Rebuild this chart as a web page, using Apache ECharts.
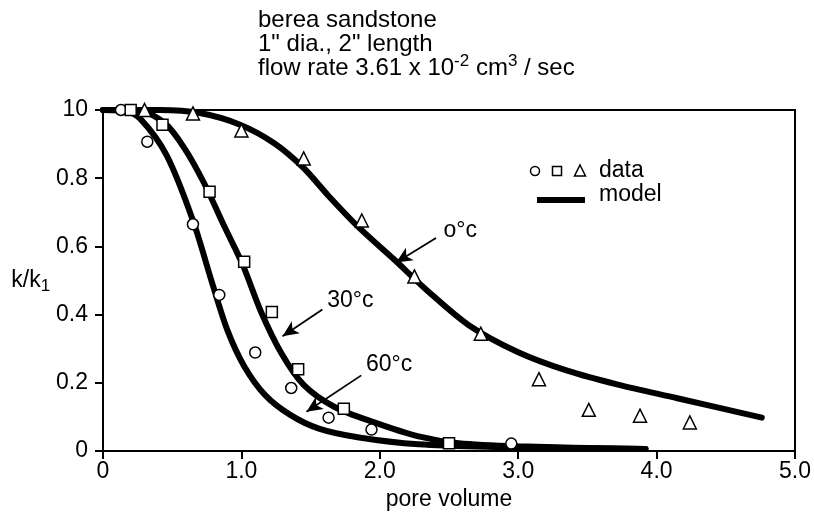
<!DOCTYPE html>
<html>
<head>
<meta charset="utf-8">
<script src="https://cdn.jsdelivr.net/npm/echarts@6/dist/echarts.min.js"></script>
<style>
  html, body { margin: 0; padding: 0; background: #fff; }
  #chart { width: 814px; height: 516px; }
</style>
</head>
<body>
<div id="chart"></div>
<script>
// measured points (pore volume, k/k1)
const circleX = [0.13, 0.32, 0.65, 0.84, 1.10, 1.36, 1.63, 1.94, 2.95];
const circleY = [1.0, 0.907, 0.665, 0.458, 0.289, 0.185, 0.098, 0.063, 0.022];
const squareX = [0.2, 0.43, 0.77, 1.02, 1.22, 1.41, 1.74, 2.5];
const squareY = [1.0, 0.957, 0.76, 0.555, 0.408, 0.24, 0.124, 0.023];
const triX = [0.3, 0.65, 1.0, 1.45, 1.87, 2.25, 2.73, 3.15, 3.51, 3.88, 4.24];
const triY = [1.0, 0.99, 0.94, 0.858, 0.676, 0.512, 0.344, 0.211, 0.121, 0.104, 0.084];

// model curves
const model0X = [0, 0.41, 0.70, 0.99, 1.24, 1.45, 1.63, 1.85, 2.10, 2.35, 2.64, 3.0, 3.36, 3.72, 4.15, 4.76];
const model0Y = [1.0, 1.0, 0.991, 0.957, 0.902, 0.83, 0.748, 0.655, 0.563, 0.468, 0.37, 0.29, 0.235, 0.195, 0.155, 0.098];
const model30X = [0, 0.27, 0.45, 0.59, 0.73, 0.88, 1.01, 1.14, 1.29, 1.45, 1.67, 1.96, 2.28, 2.57, 3.0, 3.92];
const model30Y = [1.0, 0.997, 0.96, 0.887, 0.786, 0.656, 0.546, 0.41, 0.286, 0.194, 0.13, 0.084, 0.043, 0.023, 0.014, 0.006];
const model60X = [0, 0.16, 0.27, 0.46, 0.65, 0.79, 0.90, 1.02, 1.17, 1.35, 1.56, 1.85, 2.28, 2.86, 3.43, 3.92];
const model60Y = [1.0, 0.997, 0.974, 0.867, 0.676, 0.491, 0.353, 0.249, 0.165, 0.107, 0.066, 0.040, 0.020, 0.012, 0.009, 0.006];

// annotation arrows [from, to] and label anchors
const arrow0 = [[2.406, 0.625], [2.118, 0.553]];
const arrow30 = [[1.585, 0.415], [1.297, 0.337]];
const arrow60 = [[1.866, 0.222], [1.470, 0.115]];
const label0 = [2.46, 0.645];
const label30 = [1.62, 0.441];
const label60 = [1.90, 0.254];

const FONT = 'Liberation Sans';

function pairs(xs, ys) {
  return xs.map((x, i) => [x, ys[i]]);
}

function arrowLine(a) {
  return {
    silent: true,
    symbol: ['none', 'arrow'],
    symbolSize: [11, 16],
    lineStyle: { color: '#000', width: 1.8, type: 'solid' },
    label: { show: false },
    data: [[{ coord: a[0] }, { coord: a[1] }]]
  };
}

function tag(pos, text) {
  return {
    silent: true,
    symbol: 'circle',
    symbolSize: 0,
    label: {
      show: true, position: 'right', distance: 0,
      formatter: text, color: '#000', fontFamily: FONT, fontSize: 23
    },
    data: [{ coord: pos }]
  };
}

function curve(name, xs, ys, arrow, pos, text) {
  return {
    name: name,
    type: 'line',
    data: pairs(xs, ys),
    smooth: 0.3,
    showSymbol: false,
    z: 2,
    lineStyle: { color: '#000', width: 6, cap: 'round' },
    markLine: arrowLine(arrow),
    markPoint: tag(pos, text)
  };
}

function points(name, xs, ys, symbol, size) {
  return {
    name: name,
    type: 'scatter',
    data: pairs(xs, ys),
    symbol: symbol,
    symbolSize: size,
    z: 5,
    itemStyle: { color: '#fff', borderColor: '#000', borderWidth: 1.5, opacity: 1 }
  };
}

const chart = echarts.init(document.getElementById('chart'), null, { renderer: 'canvas' });

const option = {
  animation: false,
  backgroundColor: '#fff',
  title: {
    left: 253,
    top: 3,
    text: 'berea sandstone\n1" dia., 2" length\nflow rate 3.61 x 10{sup|-2} cm{sup|3} / sec',
    textStyle: {
      fontFamily: FONT, fontSize: 24, fontWeight: 'normal', color: '#000', lineHeight: 24,
      rich: {
        sup: { fontFamily: FONT, fontSize: 17, verticalAlign: 'middle', lineHeight: 17, padding: [0, 0, 13, 0], color: '#000' }
      }
    }
  },
  grid: {
    left: 103, right: 17, top: 110, bottom: 59,
    show: true, borderColor: '#000', borderWidth: 2, backgroundColor: 'transparent'
  },
  xAxis: {
    type: 'value',
    min: 0, max: 5, interval: 1,
    name: 'pore volume',
    nameLocation: 'middle',
    nameGap: 27,
    nameTextStyle: { fontFamily: FONT, fontSize: 23, color: '#000' },
    axisLine: { show: true, onZero: false, lineStyle: { color: '#000', width: 2 } },
    axisTick: { show: true, inside: false, length: 8, lineStyle: { color: '#000', width: 2 } },
    splitLine: { show: false },
    axisLabel: {
      margin: 9, color: '#000', fontFamily: FONT, fontSize: 23,
      formatter: v => v === 0 ? '0' : v.toFixed(1)
    }
  },
  yAxis: {
    type: 'value',
    min: 0, max: 1, interval: 0.2,
    name: 'k/k{sub|1}',
    nameLocation: 'middle',
    nameRotate: 0,
    nameGap: 50,
    nameTextStyle: {
      fontFamily: FONT, fontSize: 23, color: '#000', align: 'right',
      rich: { sub: { fontFamily: FONT, fontSize: 17, verticalAlign: 'middle', lineHeight: 17, padding: [12, 0, 0, 0], color: '#000' } }
    },
    axisLine: { show: true, onZero: false, lineStyle: { color: '#000', width: 2 } },
    axisTick: { show: true, inside: false, length: 8, lineStyle: { color: '#000', width: 2 } },
    splitLine: { show: false },
    axisLabel: {
      margin: 15, color: '#000', fontFamily: FONT, fontSize: 23,
      formatter: v => v === 0 ? '0' : (v === 1 ? '10' : v.toFixed(1))
    }
  },
  graphic: [
    { type: 'circle', shape: { cx: 535, cy: 171, r: 4.5 }, style: { fill: '#fff', stroke: '#000', lineWidth: 1.5 } },
    { type: 'rect', shape: { x: 552.5, y: 166.5, width: 9, height: 9 }, style: { fill: '#fff', stroke: '#000', lineWidth: 1.5 } },
    { type: 'polygon', shape: { points: [[580, 165], [585.5, 176], [574.5, 176]] }, style: { fill: '#fff', stroke: '#000', lineWidth: 1.5 } },
    { type: 'text', left: 599, top: 159, style: { text: 'data', fontFamily: FONT, fontSize: 23, fill: '#000' } },
    { type: 'rect', shape: { x: 537, y: 197, width: 48, height: 6 }, style: { fill: '#000' } },
    { type: 'text', left: 599, top: 183, style: { text: 'model', fontFamily: FONT, fontSize: 23, fill: '#000' } }
  ],
  series: [
    curve('0°c model', model0X, model0Y, arrow0, label0, 'o°c'),
    curve('30°c model', model30X, model30Y, arrow30, label30, '30°c'),
    curve('60°c model', model60X, model60Y, arrow60, label60, '60°c'),
    points('60°c data', circleX, circleY, 'circle', 11),
    points('30°c data', squareX, squareY, 'rect', 11),
    points('0°c data', triX, triY, 'triangle', 13)
  ]
};

chart.setOption(option);
</script>
</body>
</html>
